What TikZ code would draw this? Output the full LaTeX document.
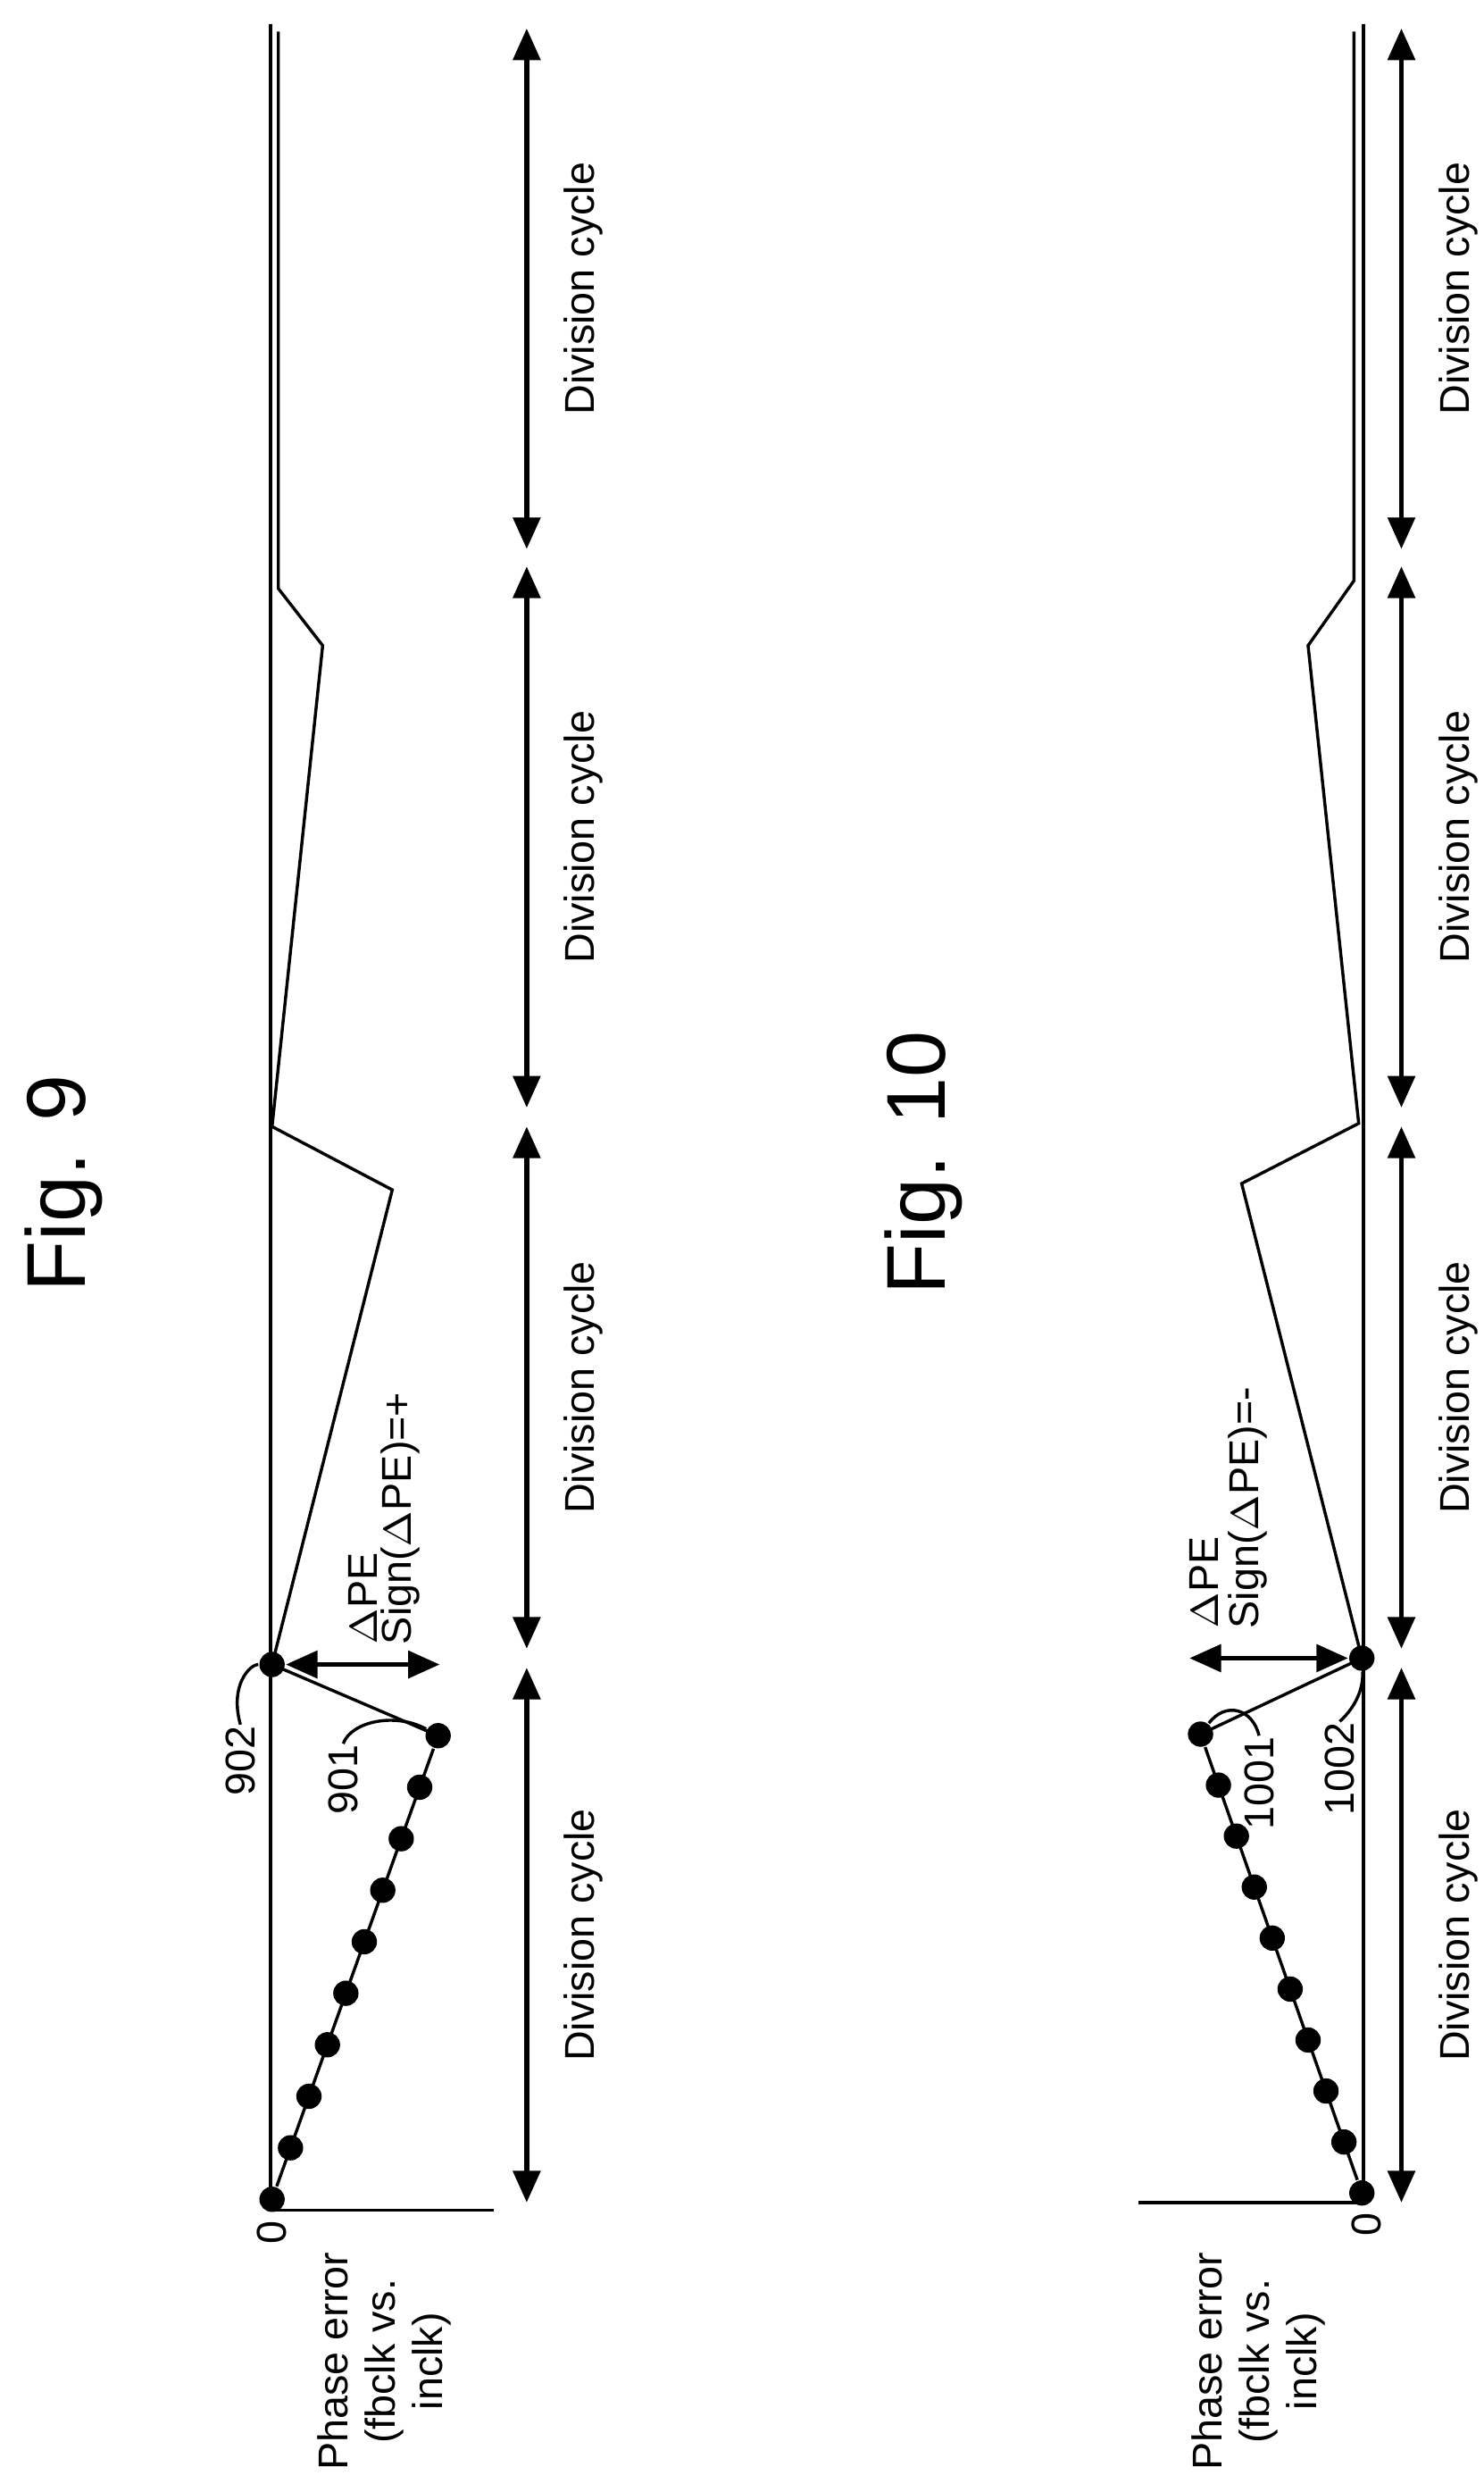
\documentclass[tikz,border=0pt]{standalone}
\usepackage{fontspec}
\setmainfont{Liberation Sans}
\usetikzlibrary{arrows.meta}
\tikzset{
  wave/.style={line width=0.55pt},
  dot/.style={circle,fill=black,inner sep=0pt,minimum size=1.6mm},
  span/.style={line width=0.9pt,{Triangle[length=2mm,width=1.7mm]}-{Triangle[length=2mm,width=1.7mm]}},
  lbl/.style={rotate=90,font=\fontsize{7.5}{8.5}\selectfont,inner sep=0pt},
  figlbl/.style={rotate=90,font=\fontsize{15}{17}\selectfont,inner sep=0pt}
}
\begin{document}
\begin{tikzpicture}[x=0.1mm,y=-0.1mm]
\useasboundingbox (0,0) rectangle (938,1575);
% Fig. 9
    \node[figlbl] (fig9) at (40,748) {Fig. 9};
    \draw[wave] (171,15) -- (171,1397) -- (312,1397);
    \node[lbl,anchor=east] (zero9) at (172,1403) {0};
    \node[lbl,anchor=north west,align=center] (pe9) at (200,1562) {Phase error\\(fbclk vs.\\inclk)};
    % Data points
    \foreach \i in {0,...,9}
        \node[dot] (a\i) at ({172+105*\i/9},{1390-293*\i/9}) {};
    \draw[wave] (a0) \foreach \i in {1,...,9} {-- (a\i)};
    \node[dot] (p902) at (172,1052) {};
    \draw[wave] (a9.center) -- (p902.center) -- (248,752) -- (172,712) -- (204,408) -- (176,372) -- (176,20);
    % Delta PE
    \coordinate (d9) at (278,1052);
    \draw[span] (p902) -- (d9);
    \node[lbl,anchor=south west] (dpe9) at (239,1040) {$\Delta$PE};
    \node[lbl,anchor=south west] (sgn9) at (266,1040) {Sign($\Delta$PE)=+};
    % Reference labels
    \node[lbl,anchor=east] (n902) at (152,1090) {902};
    \draw[wave] (n902.east) .. controls (145,1065) and (158,1052) .. (p902);
    \node[lbl,anchor=east] (n901) at (217,1102) {901};
    \draw[wave] (n901.east) .. controls (222,1088) and (250,1082) .. (a9);
    % Division cycles
    \foreach \j/\a/\b in {1/18/347,2/358/700,3/712/1042,4/1054/1392} {
        \coordinate (s9\j) at (333,\a);
        \coordinate (e9\j) at (333,\b);
        \draw[span] (s9\j) -- (e9\j);
        \node[lbl] (c9\j) at (369,{(\a+\b)/2}) {Division cycle};
    }

% Fig. 10
    \node[figlbl] (fig10) at (584,735) {Fig. 10};
    \draw[wave] (862,15) -- (862,1392) -- (720,1392);
    \node[lbl,anchor=east] (zero10) at (864,1398) {0};
    \node[lbl,anchor=north west,align=center] (pe10) at (753,1562) {Phase error\\(fbclk vs.\\inclk)};
    % Data points
    \foreach \i in {0,...,9}
        \node[dot] (b\i) at ({861-102*\i/9},{1386-290*\i/9}) {};
    \draw[wave] (b0) \foreach \i in {1,...,9} {-- (b\i)};
    \node[dot] (p1002) at (861,1048) {};
    \draw[wave] (b9.center) -- (p1002.center) -- (785,748) -- (859,710) -- (827,408) -- (856,367) -- (856,20);
    % Delta PE
    \coordinate (d10) at (752,1048);
    \draw[span] (p1002) -- (d10);
    \node[lbl,anchor=south west] (dpe10) at (771,1030) {$\Delta$PE};
    \node[lbl,anchor=south west] (sgn10) at (802,1030) {Sign($\Delta$PE)=-};
    % Reference labels
    \node[lbl,anchor=east] (n1001) at (796,1097) {1001};
    \draw[wave] (n1001.east) .. controls (792,1080) and (775,1075) .. (b9);
    \node[lbl,anchor=east] (n1002) at (847,1088) {1002};
    \draw[wave] (n1002.east) .. controls (858,1078) and (862,1066) .. (p1002);
    % Division cycles
    \foreach \j/\a/\b in {1/18/347,2/358/700,3/712/1042,4/1054/1392} {
        \coordinate (s10\j) at (886,\a);
        \coordinate (e10\j) at (886,\b);
        \draw[span] (s10\j) -- (e10\j);
        \node[lbl] (c10\j) at (922,{(\a+\b)/2}) {Division cycle};
    }
\end{tikzpicture}
\end{document}
